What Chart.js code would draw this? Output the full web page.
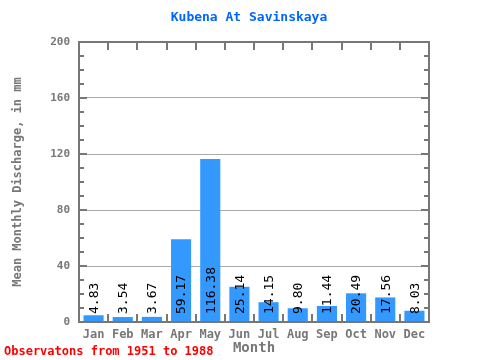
<!DOCTYPE html>
<html>
<head>
<meta charset="utf-8">
<script src="https://cdn.jsdelivr.net/npm/chart.js@4"></script>
<style>
  body { margin: 0; background: #fff; }
</style>
</head>
<body>
<canvas id="chart" width="480" height="360"></canvas>
<script>
const months = ['Jan', 'Feb', 'Mar', 'Apr', 'May', 'Jun', 'Jul', 'Aug', 'Sep', 'Oct', 'Nov', 'Dec'];
const discharge = [4.83, 3.54, 3.67, 59.17, 116.38, 25.14, 14.15, 9.80, 11.44, 20.49, 17.56, 8.03];
const yMin = 0;
const yMax = 200;
const yStep = 40;

const mono = '"DejaVu Sans Mono", "Liberation Mono", monospace';
const axisGray = '#777777';

const framePlugin = {
    id: 'frame',
    afterDraw: function (chart) {
        const ctx = chart.ctx;
        const area = chart.chartArea;
        const x = chart.scales.x;
        const y = chart.scales.y;
        ctx.save();

        // box
        ctx.strokeStyle = axisGray;
        ctx.lineWidth = 2;
        ctx.strokeRect(area.left, area.top, area.right - area.left, area.bottom - area.top);

        // inward ticks on left and right
        for (let v = yMin; v <= yMax; v += 10) {
            const py = Math.round(y.getPixelForValue(v));
            const len = v % yStep === 0 ? 8 : 5;
            ctx.beginPath();
            ctx.moveTo(area.left, py);
            ctx.lineTo(area.left + len, py);
            ctx.moveTo(area.right, py);
            ctx.lineTo(area.right - len, py);
            ctx.stroke();
        }

        // category boundary ticks on top and bottom
        for (let i = 0; i <= months.length; i++) {
            const px = Math.round(x.getPixelForValue(i - 0.5));
            ctx.beginPath();
            ctx.moveTo(px, area.top);
            ctx.lineTo(px, area.top + 8);
            ctx.moveTo(px, area.bottom);
            ctx.lineTo(px, area.bottom - 8);
            ctx.stroke();
        }

        // value labels, rotated
        const meta = chart.getDatasetMeta(0);
        const base = y.getPixelForValue(0);
        ctx.fillStyle = '#000';
        ctx.font = '13px ' + mono;
        ctx.textAlign = 'left';
        ctx.textBaseline = 'middle';
        meta.data.forEach(function (bar, i) {
            ctx.save();
            ctx.translate(bar.x + 1, base - 8);
            ctx.rotate(-Math.PI / 2);
            ctx.fillText(discharge[i].toFixed(2), 0, 0);
            ctx.restore();
        });

        // title
        ctx.fillStyle = '#0066ff';
        ctx.font = 'bold 13px ' + mono;
        ctx.textAlign = 'center';
        ctx.fillText('Kubena At Savinskaya', 249, 18);

        // footer
        ctx.fillStyle = '#ff0000';
        ctx.font = 'bold 12px ' + mono;
        ctx.textAlign = 'left';
        ctx.fillText('Observatons from 1951 to 1988', 4, 352);

        ctx.restore();
    }
};

new Chart(document.getElementById('chart'), {
    type: 'bar',
    data: {
        labels: months,
        datasets: [{
            data: discharge,
            backgroundColor: '#3399ff',
            borderWidth: 0,
            barPercentage: 0.69,
            categoryPercentage: 1
        }]
    },
    options: {
        responsive: false,
        animation: false,
        layout: { padding: { top: 42, right: 51, left: 0, bottom: 0 } },
        plugins: {
            legend: { display: false },
            tooltip: { enabled: false },
            title: { display: false }
        },
        scales: {
            x: {
                grid: { display: false, drawTicks: false },
                border: { display: false },
                ticks: {
                    color: axisGray,
                    font: { family: mono, size: 12, weight: 'bold' },
                    padding: 6,
                    maxRotation: 0
                },
                title: {
                    display: true,
                    text: 'Month',
                    color: axisGray,
                    font: { family: mono, size: 14, weight: 'bold' },
                    padding: { top: 0, bottom: 3 }
                },
                afterFit: function (scale) { scale.height = 38; }
            },
            y: {
                min: yMin,
                max: yMax,
                grid: {
                    drawTicks: false,
                    lineWidth: 1,
                    color: function (c) {
                        const v = c.tick ? c.tick.value : 0;
                        return (v > yMin && v < yMax) ? '#aaaaaa' : 'rgba(0,0,0,0)';
                    }
                },
                border: { display: false },
                ticks: {
                    stepSize: yStep,
                    color: axisGray,
                    font: { family: mono, size: 11, weight: 'bold' },
                    padding: 9
                },
                title: {
                    display: true,
                    text: 'Mean Monthly Discharge, in mm',
                    color: axisGray,
                    font: { family: mono, size: 12, weight: 'bold' },
                    padding: { top: 11, bottom: 0 }
                },
                afterFit: function (scale) { scale.width = 79; }
            }
        }
    },
    plugins: [framePlugin]
});
</script>
</body>
</html>
